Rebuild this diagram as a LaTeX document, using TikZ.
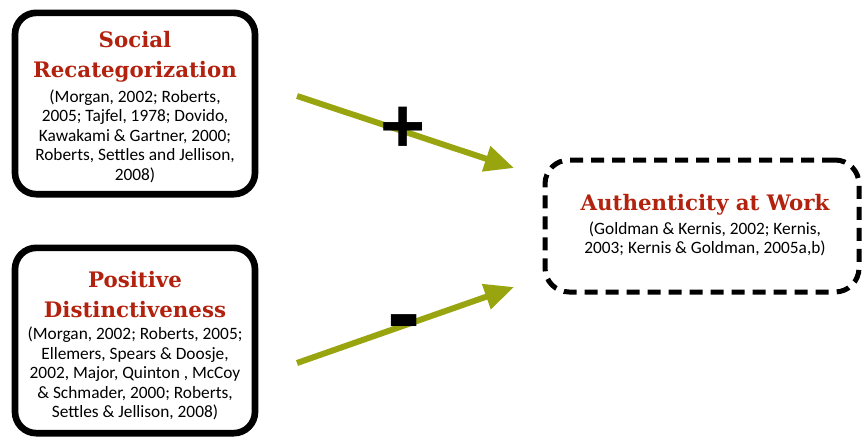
\documentclass[tikz,border=0pt]{standalone}
\usepackage{fontspec}
\setmainfont{Carlito}
\newfontfamily\titlefont{DejaVu Serif}
\newfontfamily\signfont{Liberation Sans}
\usetikzlibrary{arrows.meta}
\definecolor{titlered}{RGB}{178,34,14}
\definecolor{linkgreen}{RGB}{153,165,15}
\begin{document}
\begin{tikzpicture}[x=0.75pt,y=-0.75pt,
  srcbox/.style={draw=black, line width=5pt, rounded corners=16pt, fill=white,
    minimum width=180pt, inner sep=0pt},
  goalbox/.style={draw=black, line width=3.75pt, rounded corners=18pt,
    dash pattern=on 9.75pt off 6pt, minimum width=235.5pt, minimum height=99pt, inner sep=0pt},
  heading/.style={font=\titlefont\bfseries\fontsize{16}{22.5}\selectfont, text=titlered,
    align=center, inner sep=0pt},
  refs/.style={font=\fontsize{13}{14.6}\selectfont, align=center, inner sep=0pt},
  link/.style={draw=linkgreen, line width=4.5pt, -{Triangle[length=22pt,width=19pt]}},
  sign/.style={inner sep=0pt}
]
\useasboundingbox (0,0) rectangle (862,439);

% source boxes
\node[srcbox, minimum height=136pt] (recat) at (135,103.5) {};
\node[srcbox, minimum height=139pt] (distinct) at (135,340.5) {};
% outcome box
\node[goalbox] (auth) at (702,226) {};

% box texts
\node[heading] (recatT) at (135,57) {Social\\Recategorization};
\node[refs] (recatR) at (135,136) {(Morgan, 2002; Roberts,\\2005; Tajfel, 1978; Dovido,\\Kawakami \& Gartner, 2000;\\Roberts, Settles and Jellison,\\2008)};

\node[heading] (distinctT) at (135,295) {Positive\\Distinctiveness};
\node[refs] (distinctR) at (135,373.5) {(Morgan, 2002; Roberts, 2005;\\Ellemers, Spears \& Doosje,\\2002, Major, Quinton , McCoy\\\& Schmader, 2000; Roberts,\\Settles \& Jellison, 2008)};

\node[heading] (authT) at (705,205) {Authenticity at Work};
\node[refs] (authR) at (705,239) {(Goldman \& Kernis, 2002; Kernis,\\2003; Kernis \& Goldman, 2005a,b)};

% links
\coordinate (l1s) at (297,96);
\coordinate (l1e) at (514,168);
\coordinate (l2s) at (297,363);
\coordinate (l2e) at (514,287);
\draw[link] (l1s) -- (l1e);
\draw[link] (l2s) -- (l2e);

\node[sign, font=\signfont\bfseries\fontsize{58}{58}\selectfont] (plus) at (403,130) {+};
\node[sign, font=\signfont\bfseries\fontsize{75}{75}\selectfont] (minus) at (404,331) {-};
\end{tikzpicture}
\end{document}
